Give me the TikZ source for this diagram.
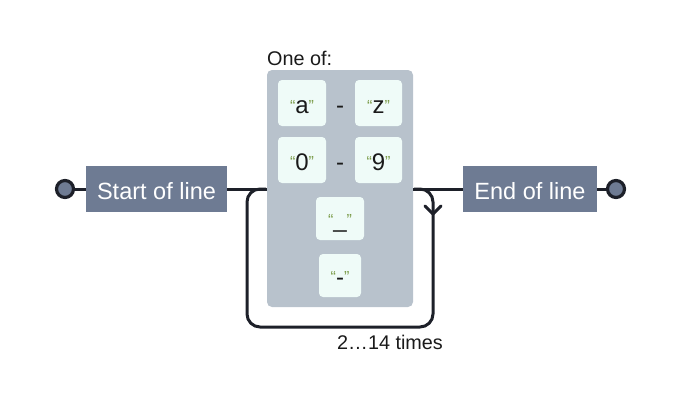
\documentclass[tikz,border=0pt]{standalone}
\usepackage{fontspec}
\setmainfont{Liberation Sans}
\usetikzlibrary{positioning}
\definecolor{boxfill}{HTML}{6E7B93}
\definecolor{grpfill}{HTML}{B8C2CC}
\definecolor{litfill}{HTML}{EFFBF8}
\definecolor{qgreen}{HTML}{7A9B48}
\definecolor{linec}{HTML}{1D2029}
\definecolor{txt}{HTML}{1A1A1A}
\newcommand{\qq}[1]{{\color{qgreen}\fontsize{16}{16}\selectfont\raisebox{2.5pt}{“}}#1{\color{qgreen}\fontsize{16}{16}\selectfont\raisebox{2.5pt}{”}}}
\tikzset{
  conn/.style={draw=linec, line width=3pt},
  termbox/.style={rectangle, fill=boxfill, text=white, inner sep=0pt, minimum height=46pt},
  termtext/.style={text=white, font=\fontsize{23.5}{23.5}\selectfont, anchor=base, inner sep=0pt},
  endcirc/.style={circle, draw=linec, line width=3.2pt, fill=boxfill, minimum size=17pt, inner sep=0pt},
  litbox/.style={rectangle, rounded corners=4pt, fill=litfill, inner sep=0pt},
  littext/.style={text=txt, font=\fontsize{24}{24}\selectfont, anchor=base, inner sep=0pt},
  grpbox/.style={rectangle, rounded corners=5pt, fill=grpfill, inner sep=0pt},
  labtext/.style={text=txt, font=\fontsize{19.8}{19.8}\selectfont, inner sep=0pt},
}
\begin{document}
\begin{tikzpicture}[x=1pt,y=-1pt]
\useasboundingbox (0,0) rectangle (680,405);
% group
\node[grpbox, minimum width=146pt, minimum height=237pt] (grp) at (340,188.5) {};
\node[labtext, anchor=base west] (oneof) at (267,65) {One of:};
% literal boxes
\node[litbox, minimum width=48pt, minimum height=46pt] (la) at (302,103) {};
\node[littext] (ta) at (302,113.5) {\qq{a}};
\node[littext] (td1) at (340,113.5) {-};
\node[litbox, minimum width=47pt, minimum height=46pt] (lz) at (378.5,103) {};
\node[littext] (tz) at (378.5,113.5) {\qq{z}};
\node[litbox, minimum width=48pt, minimum height=46pt] (l0) at (302,160) {};
\node[littext] (t0) at (302,170) {\qq{0}};
\node[littext] (td2) at (340,170) {-};
\node[litbox, minimum width=47pt, minimum height=46pt] (l9) at (378.5,160) {};
\node[littext] (t9) at (378.5,170) {\qq{9}};
\node[litbox, minimum width=48pt, minimum height=43pt] (lu) at (340,218.5) {};
\node[littext] (tu) at (340,227.5) {\qq{\_}};
\node[litbox, minimum width=42pt, minimum height=43pt] (lh) at (340,275.5) {};
\node[littext] (th) at (340,285) {\qq{-}};
% terminals
\node[termbox, minimum width=141pt] (start) at (156.5,189) {};
\node[termtext] (starttxt) at (156.5,199) {Start of line};
\node[termbox, minimum width=134pt] (end) at (530,189) {};
\node[termtext] (endtxt) at (530,199) {End of line};
\node[endcirc] (sc) at (65,189) {};
\node[endcirc] (ec) at (616,189) {};
% connectors
\draw[conn] (sc.east) -- (start.west);
\draw[conn] (start.east) -- (grp.west |- start.east);
\draw[conn] (grp.east |- end.west) -- (end.west);
\draw[conn] (end.east) -- (ec.west);
% loop
\coordinate (lr) at (414,189);
\coordinate (ll) at (266,189);
\draw[conn, rounded corners=13pt] (lr) -- (433,189) -- (433,327) -- (247,327) -- (247,189) -- (ll);
\coordinate (ah) at (433,214);
\draw[conn, line cap=round, line join=round] (425,206) -- (ah) -- (441,206);
\node[labtext, anchor=base west] (times) at (337,349) {2…14 times};
\end{tikzpicture}
\end{document}
